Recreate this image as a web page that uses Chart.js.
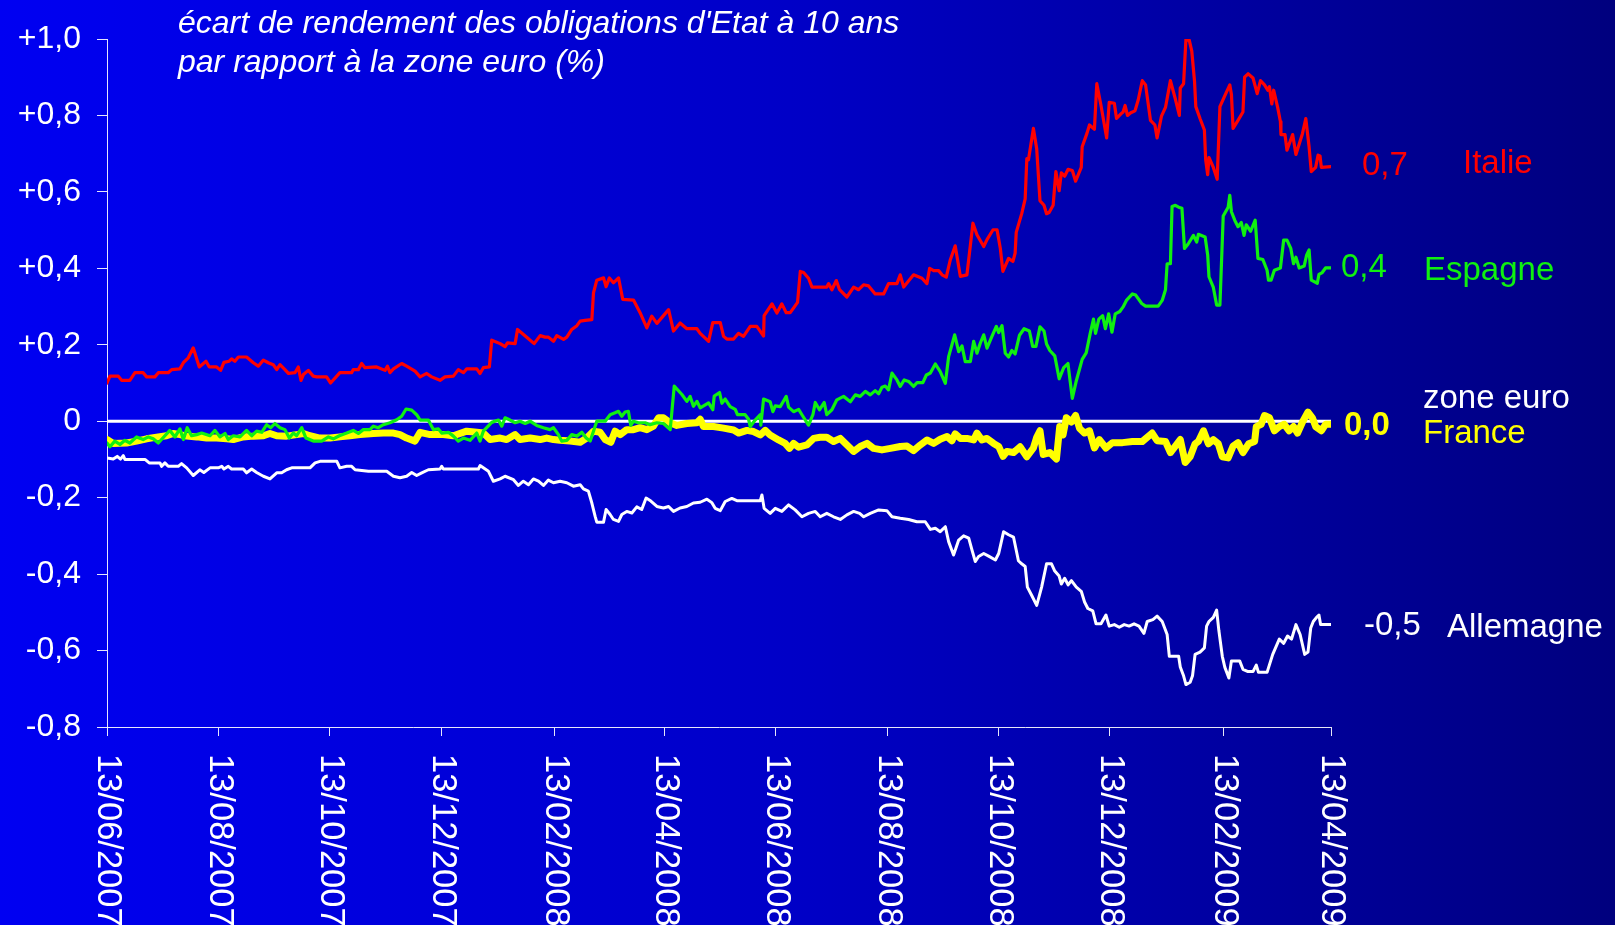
<!DOCTYPE html>
<html>
<head>
<meta charset="utf-8">
<script src="https://cdn.jsdelivr.net/npm/chart.js@4/dist/chart.umd.min.js"></script>
<style>
  html, body { margin: 0; padding: 0; background: #0000c0; overflow: hidden; }
  #wrap { width: 1615px; height: 925px; }
  canvas { display: block; }
</style>
</head>
<body>
<div id="wrap"><canvas id="c" width="1615" height="925"></canvas></div>
<script>
// ---- Axis ticks (x = days since 13/06/2007) ----
const xTickDays = [0, 61, 122, 183, 245, 305, 366, 427, 488, 549, 611, 670];
const xTickLabels = ['13/06/2007','13/08/2007','13/10/2007','13/12/2007','13/02/2008','13/04/2008',
                     '13/06/2008','13/08/2008','13/10/2008','13/12/2008','13/02/2009','13/04/2009'];
const yTicks = [1.0, 0.8, 0.6, 0.4, 0.2, 0, -0.2, -0.4, -0.6, -0.8];
const yTickLabels = ['+1,0','+0,8','+0,6','+0,4','+0,2','0','-0,2','-0,4','-0,6','-0,8'];

// ---- Series: [day, spread %] ----
const italie = [[0,0.100],[1.6,0.118],[6.2,0.118],[8,0.107],[12.5,0.107],[15.3,0.127],[19.8,0.127],[21.7,0.116],[26.2,0.116],[28.1,0.127],[33.5,0.127],[35.4,0.135],[39.9,0.137],[41.8,0.153],[44.5,0.166],[47.2,0.192],[50.5,0.142],[54.2,0.157],[56,0.142],[60,0.142],[62.2,0.133],[64,0.154],[66.9,0.157],[68.2,0.163],[70,0.157],[71.9,0.168],[76.4,0.168],[80.1,0.153],[82.8,0.144],[85.6,0.160],[88.3,0.153],[91,0.148],[92.9,0.135],[94.7,0.148],[97.4,0.135],[99.3,0.125],[102.9,0.127],[104.7,0.142],[106.2,0.107],[107.5,0.122],[110.2,0.133],[112.9,0.118],[114.8,0.116],[120.2,0.116],[122.4,0.100],[127.5,0.127],[133.9,0.127],[134.8,0.135],[137.6,0.135],[139.4,0.151],[141.2,0.140],[147.6,0.142],[152.2,0.133],[153.5,0.144],[154.9,0.127],[156.8,0.137],[161.3,0.151],[164,0.144],[168.6,0.131],[171.4,0.116],[175,0.125],[177.7,0.116],[182.3,0.107],[185,0.116],[189.6,0.118],[192.3,0.135],[195.1,0.127],[196.9,0.137],[202.4,0.137],[204.2,0.125],[206,0.140],[209.3,0.142],[210.6,0.212],[215.2,0.203],[217.9,0.195],[219.2,0.205],[223.4,0.203],[224.7,0.240],[227,0.231],[230.7,0.216],[233.8,0.203],[237.1,0.224],[239.8,0.220],[241.6,0.220],[244.4,0.209],[246.2,0.224],[249.9,0.214],[251.7,0.220],[254.4,0.240],[257.2,0.250],[259,0.262],[261.7,0.264],[265.4,0.266],[266.3,0.336],[268.1,0.369],[271.8,0.375],[273.2,0.352],[275,0.375],[277.2,0.362],[280,0.375],[282.3,0.319],[288.2,0.317],[291.8,0.284],[295.5,0.244],[298.2,0.275],[301,0.256],[307.4,0.292],[310.1,0.236],[313.7,0.257],[317.4,0.242],[322.9,0.242],[324.7,0.230],[329.3,0.209],[331.6,0.258],[335.7,0.258],[337.5,0.222],[339.3,0.215],[343,0.215],[345.7,0.230],[348.4,0.222],[352.1,0.248],[355.7,0.248],[359.4,0.223],[359.7,0.276],[364,0.307],[366.7,0.283],[369.4,0.307],[371.8,0.284],[374,0.284],[378,0.311],[379.5,0.392],[381.3,0.389],[384,0.374],[385.9,0.351],[394,0.351],[395,0.360],[396.8,0.344],[399.2,0.368],[401,0.344],[405,0.325],[408.7,0.351],[411.4,0.344],[414.1,0.357],[416.9,0.354],[420.5,0.333],[425.1,0.333],[427.8,0.360],[432.4,0.360],[434.2,0.383],[436.1,0.351],[441.5,0.383],[446.1,0.374],[448.8,0.360],[450.3,0.400],[452.5,0.394],[455.2,0.394],[457.1,0.383],[459.4,0.377],[461.6,0.422],[464.3,0.459],[467.1,0.379],[470.7,0.383],[474,0.518],[476.2,0.488],[479.9,0.457],[481.7,0.475],[485,0.501],[487.2,0.501],[489,0.452],[490.4,0.392],[493.5,0.426],[495.9,0.418],[497.1,0.440],[497.7,0.494],[500.7,0.543],[502.6,0.582],[503.5,0.687],[504.4,0.684],[507.1,0.766],[508.9,0.713],[510.7,0.577],[512.9,0.565],[514.3,0.543],[515.7,0.546],[517.9,0.565],[519.4,0.653],[521.2,0.603],[522.4,0.650],[524.2,0.641],[526.1,0.659],[528.4,0.656],[530.2,0.628],[533.3,0.664],[533.8,0.718],[536.4,0.753],[537.8,0.775],[540.5,0.764],[541.8,0.883],[544.1,0.826],[547.2,0.741],[548.6,0.834],[551.4,0.832],[552.6,0.792],[555,0.804],[556.2,0.809],[557.3,0.826],[558.6,0.800],[560.4,0.807],[562.7,0.812],[564.5,0.841],[566.7,0.891],[568.5,0.880],[571.2,0.787],[573.6,0.775],[574.8,0.741],[577.2,0.798],[579.4,0.821],[582.1,0.891],[584.8,0.843],[587,0.800],[587.5,0.872],[589.3,0.883],[590.6,1.000],[592.4,0.997],[593.8,0.968],[595.3,0.889],[596,0.823],[598.3,0.792],[600.7,0.762],[601.4,0.684],[602.5,0.645],[603.2,0.690],[605.6,0.664],[607.7,0.633],[609.2,0.823],[611.9,0.852],[614.6,0.880],[615.5,0.855],[616.4,0.766],[619.1,0.787],[621.8,0.809],[622.7,0.900],[624.6,0.909],[627.3,0.898],[629.6,0.857],[631.4,0.891],[633.6,0.880],[635.4,0.866],[636.3,0.875],[637.6,0.830],[638.6,0.866],[640.8,0.821],[642.3,0.784],[642.6,0.750],[644.8,0.750],[645.9,0.709],[649,0.750],[650.8,0.698],[654.4,0.753],[656.2,0.792],[658,0.718],[659.2,0.653],[661.6,0.664],[662.9,0.696],[664,0.694],[664.7,0.664],[670,0.666]];

const espagne = [[0,-0.057],[1.6,-0.067],[4.3,-0.052],[7.1,-0.061],[9.8,-0.050],[12.5,-0.057],[16.2,-0.041],[19.8,-0.048],[22.6,-0.041],[25.3,-0.046],[28.1,-0.057],[31.7,-0.038],[34.4,-0.024],[37.2,-0.041],[39.9,-0.020],[41.8,-0.048],[43.9,-0.017],[46.3,-0.038],[49.1,-0.035],[51.8,-0.031],[56.4,-0.038],[59.1,-0.024],[61.8,-0.041],[64.6,-0.032],[66.4,-0.048],[69.1,-0.038],[72.8,-0.041],[76.4,-0.024],[79.2,-0.038],[81.9,-0.026],[84.7,-0.029],[87.4,-0.009],[89.6,-0.017],[91.9,-0.006],[94.7,-0.017],[97.4,-0.022],[99.8,-0.044],[102,-0.031],[103.8,-0.038],[106.6,-0.017],[108.9,-0.044],[112.9,-0.052],[117.5,-0.052],[121.2,-0.041],[123.9,-0.046],[127.2,-0.038],[131.2,-0.031],[134.8,-0.024],[137.6,-0.032],[140.3,-0.022],[143.9,-0.022],[145.8,-0.013],[148.5,-0.017],[151.3,-0.009],[154.9,-0.004],[158.6,0.004],[161.3,0.013],[163.7,0.032],[166.8,0.029],[169.5,0.017],[171.4,0.003],[175.9,0.003],[178.7,-0.022],[181.4,-0.020],[183.2,-0.031],[186.9,-0.029],[189.6,-0.039],[192.3,-0.052],[195.1,-0.044],[198.7,-0.050],[202.4,-0.031],[204.2,-0.052],[206,-0.026],[210.6,-0.003],[214.3,0.003],[216.1,-0.013],[217.9,0.009],[220.6,0.003],[223.4,-0.004],[226.1,0],[228.9,-0.006],[231.6,0],[235.2,-0.011],[238.9,-0.017],[242.5,-0.022],[244.4,-0.017],[247.1,-0.035],[248.9,-0.052],[251.7,-0.050],[254.4,-0.035],[257.2,-0.039],[259.9,-0.029],[262.3,-0.044],[264.5,-0.052],[266.3,-0.026],[268.1,0],[272.7,0],[275.4,0.017],[278.1,0.022],[280,0.026],[281.8,0.013],[283.6,0.024],[285.4,0.026],[286.7,-0.011],[288.2,0],[290.9,-0.004],[294.6,-0.004],[297.3,-0.009],[301,-0.004],[304.6,-0.006],[308.3,-0.022],[310.5,0.092],[314.7,0.070],[317.4,0.052],[319.2,0.065],[321,0.039],[322.9,0.052],[324.7,0.035],[329.3,0.048],[331.6,0.030],[332.4,0.066],[335.3,0.075],[336.6,0.047],[338.4,0.058],[341.1,0.038],[343.9,0.031],[345.1,0.017],[349.3,0.017],[351.2,0.005],[352.1,-0.014],[354.8,0.003],[357.6,0.017],[357.9,-0.010],[359.4,0.058],[363,0.051],[364.5,0.025],[365.8,0.040],[368.5,0.038],[371.8,0.065],[373.1,0.037],[375.8,0.025],[378.6,0.031],[380.4,0.017],[384,-0.010],[386.4,0.017],[387.7,0.049],[390,0.030],[392.6,0.049],[394,0.017],[396.8,0.030],[399.5,0.056],[403.2,0.065],[406.9,0.051],[409.6,0.069],[412.3,0.065],[415.1,0.078],[417.8,0.069],[420.5,0.080],[422.4,0.072],[424.2,0.089],[426,0.092],[427.8,0.082],[429.7,0.126],[432.4,0.108],[434.2,0.091],[436.4,0.108],[438.8,0.104],[441.5,0.091],[443.4,0.101],[446.6,0.101],[448.5,0.121],[450.7,0.126],[453.4,0.150],[456.1,0.130],[458.9,0.099],[460.7,0.169],[464,0.226],[466.2,0.182],[468,0.197],[469.8,0.156],[472.6,0.156],[474.4,0.209],[476.2,0.178],[478,0.204],[479.9,0.226],[481.7,0.191],[484.4,0.222],[486.8,0.248],[488.1,0.232],[489.9,0.250],[491.7,0.178],[493.5,0.168],[495.3,0.185],[497.1,0.176],[499.5,0.225],[502,0.242],[504.9,0.236],[506.7,0.196],[508.5,0.196],[510.7,0.247],[512.9,0.236],[514.3,0.202],[516.1,0.185],[518.8,0.171],[521.2,0.111],[523.7,0.140],[526,0.151],[528.4,0.060],[530.6,0.106],[533.8,0.162],[536,0.179],[538.2,0.230],[540,0.267],[541.1,0.230],[542.9,0.267],[545,0.276],[546.5,0.242],[548.3,0.281],[550.1,0.233],[551.9,0.281],[554.4,0.287],[556.2,0.299],[558,0.316],[561.3,0.333],[563.1,0.330],[566.4,0.308],[568.5,0.301],[575.4,0.301],[577.6,0.316],[579.4,0.344],[580.3,0.412],[582.1,0.412],[583,0.562],[584.8,0.565],[586.6,0.560],[588.4,0.557],[589.8,0.452],[591.7,0.463],[594.7,0.486],[596.5,0.469],[597.4,0.489],[601.1,0.482],[602.5,0.435],[603.2,0.378],[605.6,0.350],[607.4,0.304],[609.2,0.304],[611,0.537],[613.7,0.560],[614.6,0.591],[615.5,0.548],[617.3,0.526],[619.1,0.509],[620.9,0.520],[622.4,0.486],[623.6,0.514],[626,0.497],[628.5,0.526],[630,0.426],[632.7,0.423],[635,0.395],[635.8,0.369],[637.2,0.369],[639,0.395],[642.3,0.401],[644.1,0.474],[645.9,0.474],[648,0.452],[649.5,0.412],[650.8,0.429],[652.6,0.401],[655.3,0.406],[656.7,0.435],[658,0.448],[659.2,0.369],[662.5,0.361],[663.4,0.384],[665.2,0.389],[667,0.401],[670,0.401]];

const france = [[0,-0.048],[3.4,-0.058],[10.7,-0.057],[16.2,-0.052],[21.7,-0.046],[28.1,-0.041],[32.6,-0.038],[36.3,-0.032],[39.9,-0.035],[43.6,-0.039],[49.1,-0.041],[54.5,-0.044],[60,-0.044],[65.5,-0.046],[69.1,-0.048],[74.6,-0.041],[80.1,-0.039],[85.6,-0.038],[89.2,-0.032],[92.9,-0.038],[98.3,-0.039],[103.8,-0.035],[107.5,-0.032],[111.1,-0.038],[116.6,-0.044],[122.1,-0.044],[127.5,-0.041],[133,-0.038],[138.5,-0.035],[145.8,-0.032],[151.3,-0.031],[156.8,-0.031],[160.4,-0.035],[164,-0.044],[168.6,-0.052],[171.4,-0.029],[176.8,-0.035],[184.1,-0.035],[189.6,-0.038],[196.9,-0.026],[202.4,-0.029],[206,-0.031],[209.7,-0.048],[215.2,-0.044],[218.8,-0.048],[223.4,-0.035],[226.1,-0.048],[231.6,-0.044],[237.1,-0.048],[240.7,-0.044],[244.4,-0.048],[248,-0.050],[253.5,-0.052],[259,-0.055],[262.6,-0.044],[266.3,-0.026],[269.9,-0.029],[272.7,-0.048],[275.8,-0.055],[278.1,-0.026],[280.9,-0.035],[284.5,-0.022],[288.2,-0.022],[291.8,-0.017],[295.5,-0.022],[299.1,-0.013],[301.9,0.009],[304.6,0.009],[308.3,-0.004],[311.9,-0.011],[317.4,-0.006],[322.9,-0.004],[324.7,0.005],[326.5,-0.014],[332,-0.014],[337.5,-0.018],[343,-0.023],[345.7,-0.031],[350.3,-0.024],[353.9,-0.027],[357.6,-0.036],[360.3,-0.024],[363,-0.036],[367.6,-0.049],[371.2,-0.058],[373.6,-0.071],[375.8,-0.058],[378.6,-0.068],[383.1,-0.062],[386.8,-0.045],[390.4,-0.042],[394,-0.042],[397.7,-0.053],[401.4,-0.045],[405.9,-0.066],[408.7,-0.079],[412.3,-0.066],[416,-0.058],[419.6,-0.071],[424.2,-0.075],[428.8,-0.071],[434.2,-0.066],[437.9,-0.065],[441.5,-0.077],[445.2,-0.062],[448.8,-0.049],[452.5,-0.058],[456.1,-0.047],[459.8,-0.040],[462.5,-0.051],[464.3,-0.033],[467.1,-0.045],[470.7,-0.045],[474.4,-0.049],[476.2,-0.031],[478.9,-0.049],[481.7,-0.045],[485.3,-0.058],[488.1,-0.066],[490.5,-0.092],[492.6,-0.079],[496.2,-0.082],[499.8,-0.067],[503.5,-0.093],[507.1,-0.070],[508.9,-0.042],[510.7,-0.025],[512.5,-0.087],[516.1,-0.082],[519.7,-0.099],[521.5,-0.014],[523.3,-0.036],[525.1,0.009],[527.9,-0.002],[530.2,0.015],[532.4,-0.019],[535.1,-0.031],[537.8,-0.025],[540.5,-0.070],[543.2,-0.048],[546.8,-0.070],[550.4,-0.056],[555.9,-0.056],[561.3,-0.053],[566.7,-0.053],[572.1,-0.031],[574.8,-0.051],[579.4,-0.053],[582.1,-0.082],[584.8,-0.065],[587.5,-0.048],[590.2,-0.108],[592.9,-0.093],[595.6,-0.059],[597.4,-0.053],[600.2,-0.025],[602.9,-0.059],[605.6,-0.048],[608.3,-0.059],[610.5,-0.093],[613.7,-0.096],[616.4,-0.065],[619.1,-0.056],[621.8,-0.082],[624.9,-0.059],[628.2,-0.053],[629.1,-0.014],[631.8,-0.008],[633.6,0.015],[636.3,0.009],[639,-0.025],[641.7,-0.014],[644.4,-0.008],[647.1,-0.025],[649.5,-0.014],[651.7,-0.031],[654.4,-0.002],[657.4,0.024],[659.8,0.009],[661.6,-0.014],[664.7,-0.025],[667,-0.008],[670,-0.008]];

const allemagne = [[0,-0.096],[3.4,-0.099],[5.6,-0.092],[7.4,-0.099],[8.9,-0.090],[9.8,-0.100],[20.8,-0.100],[23.1,-0.109],[29,-0.109],[29.9,-0.118],[31.7,-0.109],[33.5,-0.118],[39,-0.118],[40.8,-0.111],[43.6,-0.122],[47.2,-0.142],[50.8,-0.127],[53,-0.134],[56.4,-0.122],[60.9,-0.122],[62.8,-0.118],[64,-0.125],[66.4,-0.118],[68.2,-0.125],[74.6,-0.125],[76.4,-0.135],[79.2,-0.125],[81.9,-0.134],[85.6,-0.144],[89.2,-0.151],[92.9,-0.135],[95.6,-0.135],[98.3,-0.127],[101.1,-0.122],[111.1,-0.122],[113.9,-0.109],[116.6,-0.105],[125.8,-0.105],[127.5,-0.122],[131.2,-0.118],[133.9,-0.118],[135.8,-0.127],[143.1,-0.131],[153.1,-0.131],[156.8,-0.144],[160.4,-0.148],[164,-0.144],[166.8,-0.134],[169.5,-0.142],[172.3,-0.135],[175.9,-0.127],[182.3,-0.125],[183.2,-0.118],[184.1,-0.125],[203.3,-0.125],[204.2,-0.116],[208.8,-0.131],[211.5,-0.157],[215.2,-0.151],[217.9,-0.144],[222.5,-0.153],[225.2,-0.168],[227.9,-0.157],[230.7,-0.166],[233.4,-0.151],[236.2,-0.157],[238.9,-0.168],[241.6,-0.154],[244.4,-0.161],[248,-0.157],[251.7,-0.161],[255.3,-0.170],[259,-0.166],[260.8,-0.177],[263.5,-0.183],[265.4,-0.214],[267.2,-0.249],[268.1,-0.264],[271.8,-0.264],[273.2,-0.231],[275.4,-0.244],[277.2,-0.257],[280,-0.262],[281.8,-0.244],[284.5,-0.236],[287.3,-0.240],[290,-0.224],[292.7,-0.231],[295.1,-0.201],[297.7,-0.209],[301,-0.223],[304.6,-0.227],[307.4,-0.223],[310.1,-0.236],[313.7,-0.227],[317.4,-0.223],[321,-0.214],[324.7,-0.212],[328.4,-0.204],[331.1,-0.213],[332.9,-0.228],[335.7,-0.234],[338.4,-0.210],[342,-0.202],[344.8,-0.208],[357.6,-0.208],[358.5,-0.193],[359.7,-0.228],[363,-0.241],[365.8,-0.228],[369.4,-0.236],[373.1,-0.219],[376.7,-0.232],[380.4,-0.250],[384,-0.241],[387.7,-0.236],[390.4,-0.250],[394,-0.241],[397.7,-0.250],[401.4,-0.257],[405,-0.245],[408.7,-0.236],[412,-0.241],[414.2,-0.250],[417.8,-0.241],[422.4,-0.232],[426.9,-0.234],[429.7,-0.250],[434.2,-0.254],[438.8,-0.257],[443.3,-0.263],[447.9,-0.263],[450.7,-0.283],[453.4,-0.280],[456.1,-0.289],[458.9,-0.276],[460.7,-0.315],[463.4,-0.350],[466.2,-0.311],[468.9,-0.300],[471.7,-0.306],[473.5,-0.337],[475.3,-0.367],[477.1,-0.354],[479.9,-0.346],[482.6,-0.353],[486.3,-0.363],[488.1,-0.346],[490.8,-0.289],[493.5,-0.297],[496.2,-0.303],[498.9,-0.365],[500.7,-0.373],[502.6,-0.380],[503.8,-0.434],[506.2,-0.456],[508.9,-0.482],[511.6,-0.434],[514.3,-0.373],[517,-0.373],[518.8,-0.392],[521.2,-0.405],[522.4,-0.426],[524.2,-0.411],[526.1,-0.428],[527.9,-0.417],[530.6,-0.434],[533.3,-0.445],[535.1,-0.473],[536.9,-0.490],[539.6,-0.496],[541.4,-0.530],[544.1,-0.530],[546.8,-0.507],[548.6,-0.536],[551.4,-0.532],[554.1,-0.539],[556.8,-0.532],[559.5,-0.536],[562.2,-0.530],[564.9,-0.536],[567.6,-0.555],[569.4,-0.524],[572.5,-0.519],[574.8,-0.510],[577.6,-0.524],[580.3,-0.558],[581.5,-0.615],[586.6,-0.615],[587.5,-0.643],[589.3,-0.666],[590.6,-0.689],[592.9,-0.683],[594.2,-0.666],[595.6,-0.610],[598.3,-0.604],[600.7,-0.593],[601.9,-0.536],[603.2,-0.524],[605.6,-0.513],[607.4,-0.494],[608.6,-0.547],[610.5,-0.615],[611.9,-0.644],[614.1,-0.672],[615.5,-0.627],[620,-0.627],[621.8,-0.649],[624.6,-0.655],[627.3,-0.655],[629.1,-0.638],[630.3,-0.657],[635,-0.657],[638.1,-0.610],[641.7,-0.570],[644.1,-0.581],[646.2,-0.562],[648.4,-0.570],[650.8,-0.532],[653.1,-0.558],[655.6,-0.610],[657.4,-0.604],[658.9,-0.541],[660.3,-0.524],[662.1,-0.513],[663.4,-0.507],[664.3,-0.532],[670,-0.532]];

const zoneEuro = [[0,0],[670,0]];

// ---- Text ----
const titleLines = ["écart de rendement des obligations d'Etat à 10 ans", "par rapport à la zone euro (%)"];
const endValueLabels = ['0,7', '0,4', '0,0', '-0,5'];
const seriesNames = ['Italie', 'Espagne', 'zone euro', 'France', 'Allemagne'];

const FONT = '"Liberation Sans", Arial, sans-serif';
const toXY = arr => arr.map(([x, y]) => ({ x, y }));

const bgPlugin = {
  id: 'bg',
  beforeDraw(chart) {
    const { ctx, width, height } = chart;
    const g = ctx.createLinearGradient(0, 0, width, 0);
    g.addColorStop(0, 'rgb(0,0,242)');
    g.addColorStop(0.5, 'rgb(0,0,198)');
    g.addColorStop(1, 'rgb(0,0,126)');
    ctx.save();
    ctx.fillStyle = g;
    ctx.fillRect(0, 0, width, height);
    ctx.restore();
  }
};

const textPlugin = {
  id: 'texts',
  afterDraw(chart) {
    const { ctx } = chart;
    const xs = chart.scales.x;
    ctx.save();
    // title
    ctx.fillStyle = '#ffffff';
    ctx.font = 'italic 32px ' + FONT;
    ctx.textAlign = 'left';
    ctx.textBaseline = 'alphabetic';
    ctx.fillText(titleLines[0], 178, 33);
    ctx.fillText(titleLines[1], 178, 72);

    // x tick labels, rotated clockwise
    ctx.font = '34.5px ' + FONT;
    ctx.textBaseline = 'middle';
    xTickDays.forEach((d, i) => {
      const px = xs.getPixelForValue(d);
      ctx.save();
      ctx.translate(px + 1, 754);
      ctx.rotate(Math.PI / 2);
      ctx.fillText(xTickLabels[i], 0, 0);
      ctx.restore();
    });

    // end labels
    ctx.textBaseline = 'alphabetic';
    ctx.font = '33px ' + FONT;
    ctx.fillStyle = '#ff0000';
    ctx.fillText(endValueLabels[0], 1362, 175);
    ctx.fillText(seriesNames[0], 1463, 173);
    ctx.fillStyle = '#10f010';
    ctx.fillText(endValueLabels[1], 1341, 277);
    ctx.fillText(seriesNames[1], 1424, 280);
    ctx.fillStyle = '#ffffff';
    ctx.fillText(seriesNames[2], 1423, 408);
    ctx.fillStyle = '#ffff00';
    ctx.fillText(seriesNames[3], 1423, 443);
    ctx.font = 'bold 33px ' + FONT;
    ctx.fillText(endValueLabels[2], 1344, 435);
    ctx.font = '33px ' + FONT;
    ctx.fillStyle = '#ffffff';
    ctx.fillText(endValueLabels[3], 1364, 635);
    ctx.fillText(seriesNames[4], 1447, 637);
    ctx.restore();
  }
};

const lineDefaults = { pointRadius: 0, tension: 0, borderJoinStyle: 'round', borderCapStyle: 'round', fill: false };

new Chart(document.getElementById('c'), {
  type: 'line',
  data: {
    datasets: [
      { label: 'Italie', data: toXY(italie), borderColor: '#ff0000', borderWidth: 3.2, ...lineDefaults },
      { label: 'Espagne', data: toXY(espagne), borderColor: '#10f010', borderWidth: 3.2, ...lineDefaults },
      { label: 'France', data: toXY(france), borderColor: '#ffff00', borderWidth: 7, ...lineDefaults },
      { label: 'Allemagne', data: toXY(allemagne), borderColor: '#ffffff', borderWidth: 3, ...lineDefaults },
      { label: 'zone euro', data: toXY(zoneEuro), borderColor: '#ffffff', borderWidth: 3, ...lineDefaults }
    ]
  },
  options: {
    responsive: false,
    animation: false,
    devicePixelRatio: 1,
    layout: { padding: { top: 39, right: 284, left: 0, bottom: 0 } },
    plugins: { legend: { display: false }, tooltip: { enabled: false }, title: { display: false } },
    scales: {
      x: {
        type: 'linear',
        min: 0,
        max: 670,
        afterBuildTicks: axis => { axis.ticks = xTickDays.map(v => ({ value: v })); },
        afterFit: scale => { scale.height = 198; },
        ticks: { display: false },
        grid: { drawOnChartArea: false, drawTicks: true, tickLength: 9, color: 'rgba(255,255,255,0.9)', lineWidth: 1 },
        border: { display: true, color: 'rgba(255,255,255,0.9)', width: 1 }
      },
      y: {
        type: 'linear',
        min: -0.8,
        max: 1.0,
        afterBuildTicks: axis => { axis.ticks = yTicks.map(v => ({ value: v })); },
        afterFit: scale => { scale.width = 107; },
        ticks: {
          color: '#ffffff',
          font: { family: FONT, size: 32 },
          padding: 16,
          callback: (value) => {
            const i = yTicks.findIndex(t => Math.abs(t - value) < 1e-6);
            return i >= 0 ? yTickLabels[i] : '';
          }
        },
        grid: { drawOnChartArea: false, drawTicks: true, tickLength: 10, color: 'rgba(255,255,255,0.9)', lineWidth: 1 },
        border: { display: true, color: 'rgba(255,255,255,0.9)', width: 1 }
      }
    }
  },
  plugins: [bgPlugin, textPlugin]
});
</script>
</body>
</html>
